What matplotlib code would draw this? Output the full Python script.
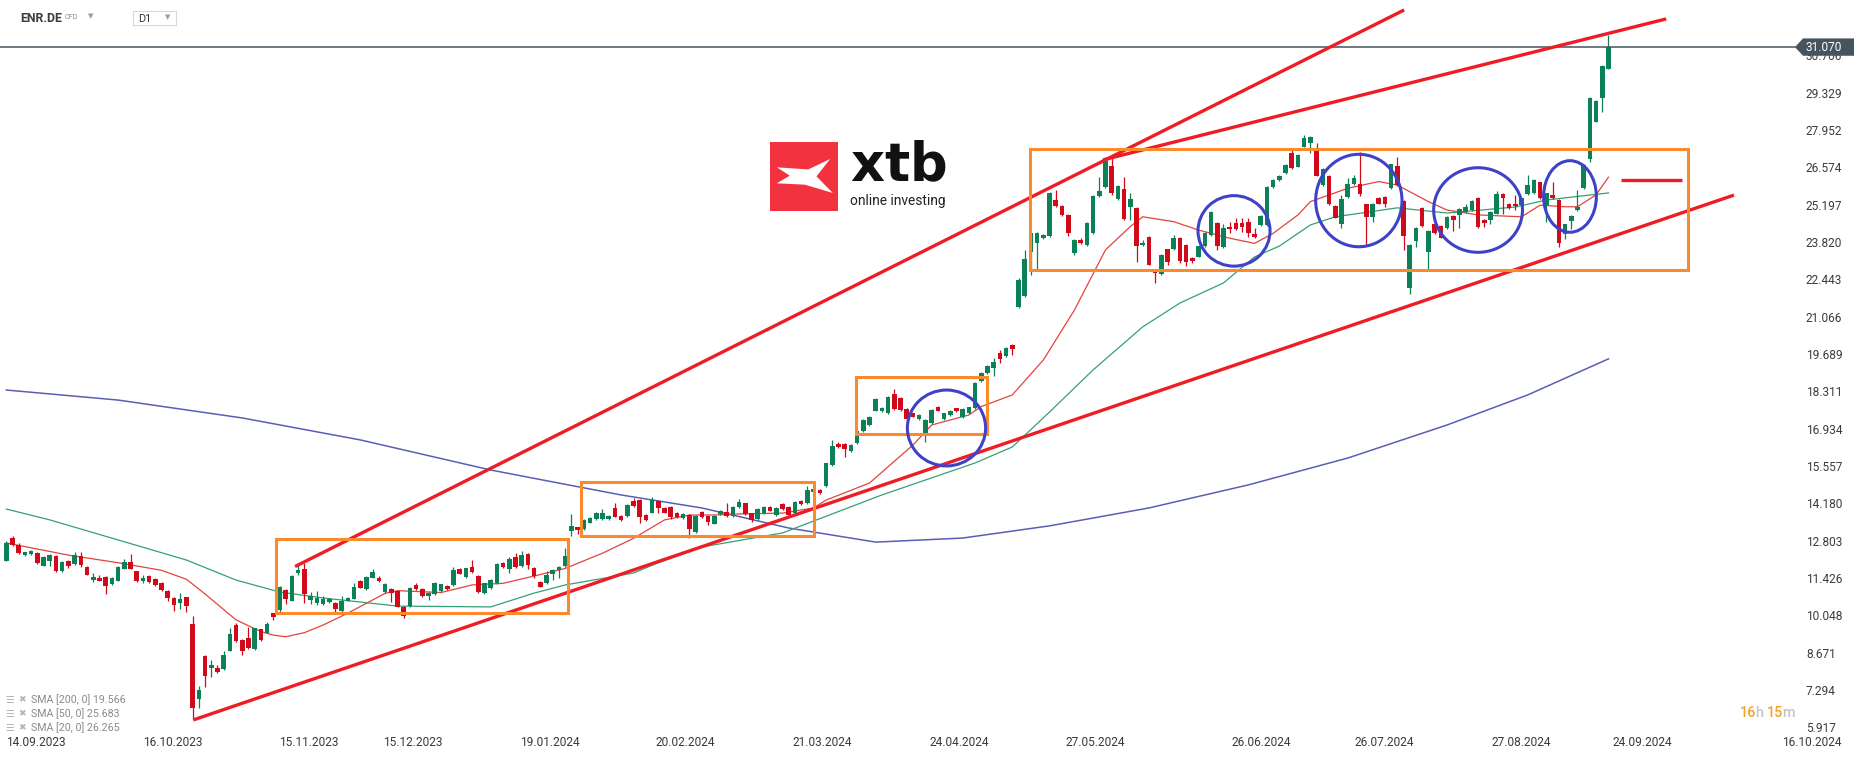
#!/usr/bin/env python3
"""
plot.py - ENR.DE daily candles with SMA 20/50/200 and hand-drawn chart annotations
"""

import numpy as np
import matplotlib
matplotlib.use("Agg")
import matplotlib.pyplot as plt
from matplotlib.patches import Rectangle, Ellipse, Polygon
from matplotlib.transforms import blended_transform_factory

W, H = 1866, 759

opens = [
    12.13, 12.95, 12.70, 12.32, 12.36, 12.41, 11.94, 12.13, 12.30, 11.74,
    12.11, 11.99, 12.30, 11.89, 11.41, 11.49, 11.52, 11.26, 11.38, 11.83,
    12.09, 11.74, 11.39, 11.56, 11.46, 11.31, 11.02, 10.75, 10.58, 10.77,
    9.79, 7.02, 8.61, 8.18, 8.18, 8.13, 8.80, 9.75, 9.19, 9.29,
    8.85, 9.59, 9.47, 10.18, 10.29, 11.06, 10.65, 11.68, 11.80, 10.67,
    10.57, 10.52, 10.59, 10.57, 10.28, 10.65, 10.72, 11.37, 11.09, 11.50,
    11.50, 10.97, 11.08, 10.99, 10.43, 10.45, 11.23, 11.08, 10.83, 10.89,
    11.00, 11.19, 11.23, 11.83, 11.53, 11.88, 11.56, 10.94, 11.10, 11.29,
    12.04, 11.80, 12.25, 11.94, 12.37, 11.87, 11.34, 11.29, 11.62, 11.77,
    11.93, 13.22, 13.35, 13.28, 13.53, 13.67, 13.65, 13.66, 14.07, 13.79,
    13.77, 14.33, 14.36, 13.80, 13.90, 14.33, 14.06, 14.12, 13.90, 13.70,
    13.80, 13.19, 13.93, 13.78, 13.49, 13.85, 13.93, 13.77, 14.11, 14.24,
    13.87, 13.65, 13.89, 14.11, 13.81, 14.21, 14.12, 13.87, 14.33, 14.26,
    14.67, 14.74, 14.88, 15.65, 16.42, 16.43, 16.17, 16.45, 16.92, 17.13,
    17.66, 17.65, 17.56, 18.26, 18.14, 17.71, 17.56, 17.34, 16.85, 17.19,
    17.79, 17.36, 17.51, 17.74, 17.41, 17.58, 17.74, 18.75, 19.05, 19.25,
    19.80, 19.67, 20.08, 21.49, 21.90, 23.52, 23.85, 24.01, 24.10, 25.43,
    25.21, 24.87, 23.48, 23.95, 23.77, 24.20, 25.58, 25.90, 26.69, 25.45,
    25.83, 25.18, 25.15, 23.77, 24.07, 22.80, 22.69, 23.61, 23.61, 24.04,
    23.77, 23.29, 23.34, 23.73, 24.15, 24.57, 23.70, 24.44, 24.57, 24.57,
    24.62, 24.17, 24.50, 24.50, 25.90, 26.17, 26.41, 27.17, 26.66, 27.40,
    27.52, 27.31, 25.98, 26.31, 25.21, 24.54, 25.55, 26.01, 26.01, 25.27,
    24.81, 25.51, 25.54, 25.88, 26.68, 25.39, 22.19, 23.91, 25.14, 23.52,
    24.53, 24.48, 24.38, 24.83, 24.87, 24.99, 25.06, 25.51, 24.69, 24.69,
    24.93, 25.64, 25.30, 25.30, 25.24, 25.64, 25.67, 26.08, 25.24, 25.61,
    25.43, 24.16, 24.65, 25.06, 25.88, 26.96, 28.32, 29.18, 30.28,
]
highs = [
    12.85, 13.05, 12.78, 12.46, 12.52, 12.44, 12.30, 12.37, 12.33, 12.12,
    12.14, 12.45, 12.45, 11.92, 11.68, 11.60, 11.55, 11.52, 11.92, 12.20,
    12.37, 11.76, 11.58, 11.60, 11.48, 11.33, 11.04, 10.78, 10.94, 10.80,
    10.08, 7.51, 8.63, 8.46, 8.27, 8.79, 9.63, 9.81, 9.22, 9.69,
    9.66, 9.62, 9.86, 10.20, 11.20, 11.09, 11.58, 12.03, 12.03, 10.97,
    11.02, 10.82, 10.74, 10.60, 10.82, 10.79, 11.29, 11.41, 11.55, 11.82,
    11.56, 11.31, 11.11, 11.02, 10.45, 11.15, 11.32, 11.10, 10.97, 11.34,
    11.28, 11.22, 11.88, 11.86, 11.87, 12.15, 11.60, 11.32, 11.44, 12.03,
    12.07, 12.25, 12.40, 12.48, 12.40, 11.90, 11.37, 11.75, 11.81, 11.92,
    12.58, 13.83, 13.38, 13.66, 13.72, 13.91, 14.02, 13.80, 14.24, 13.82,
    14.20, 14.43, 14.39, 13.83, 14.47, 14.36, 14.09, 14.15, 13.93, 13.87,
    13.85, 13.81, 13.96, 13.81, 13.82, 13.98, 14.26, 14.14, 14.40, 14.27,
    13.90, 14.08, 14.14, 14.14, 14.11, 14.24, 14.15, 14.33, 14.36, 14.88,
    14.80, 14.77, 15.74, 16.58, 16.50, 16.48, 16.42, 16.93, 17.34, 17.47,
    18.11, 17.78, 18.21, 18.45, 18.17, 17.74, 17.59, 17.53, 17.34, 17.71,
    17.82, 17.59, 17.69, 17.77, 17.74, 17.81, 18.70, 19.10, 19.35, 19.60,
    19.90, 20.02, 20.12, 22.55, 23.58, 24.25, 24.26, 24.17, 25.73, 25.80,
    25.24, 24.90, 23.98, 24.02, 24.60, 25.61, 26.29, 26.91, 27.03, 25.98,
    26.29, 25.70, 25.18, 23.95, 24.10, 22.85, 23.43, 23.64, 24.15, 24.07,
    23.80, 23.32, 23.76, 24.25, 25.03, 24.60, 24.55, 24.60, 24.75, 24.75,
    24.75, 24.40, 24.87, 25.95, 26.20, 26.34, 26.75, 27.30, 27.12, 27.83,
    27.79, 27.52, 26.60, 26.34, 25.24, 25.60, 26.23, 26.35, 27.19, 25.30,
    25.33, 25.54, 25.57, 26.77, 27.03, 25.42, 23.80, 24.44, 25.17, 24.31,
    24.56, 24.51, 24.84, 24.86, 25.12, 25.30, 25.42, 25.54, 24.72, 25.02,
    25.78, 25.67, 25.33, 25.60, 25.52, 26.36, 26.20, 26.11, 25.70, 26.10,
    25.46, 24.56, 24.86, 25.80, 26.75, 29.23, 29.11, 30.40, 31.52,
]
lows = [
    12.10, 12.68, 12.38, 12.30, 12.34, 12.02, 11.92, 11.94, 11.70, 11.72,
    11.85, 11.97, 11.88, 11.58, 11.34, 11.36, 10.91, 11.24, 11.36, 11.80,
    11.80, 11.34, 11.32, 11.31, 11.19, 11.02, 10.64, 10.28, 10.36, 10.24,
    6.28, 6.68, 7.45, 7.84, 8.00, 8.10, 8.78, 9.14, 8.66, 8.88,
    8.83, 9.16, 9.44, 9.94, 10.24, 10.52, 10.62, 11.60, 10.55, 10.52,
    10.50, 10.48, 10.56, 10.24, 10.25, 10.62, 10.70, 11.10, 11.06, 11.48,
    11.34, 10.94, 10.61, 10.40, 10.00, 10.42, 11.04, 10.79, 10.68, 10.86,
    10.97, 11.05, 11.20, 11.62, 11.50, 11.68, 10.95, 10.91, 11.07, 11.26,
    11.85, 11.68, 11.87, 11.91, 11.82, 11.47, 11.14, 11.26, 11.40, 11.50,
    11.90, 13.05, 13.10, 13.25, 13.50, 13.64, 13.62, 13.63, 13.72, 13.60,
    13.74, 14.12, 13.50, 13.60, 13.87, 13.90, 13.87, 13.65, 13.69, 13.67,
    12.95, 13.16, 13.69, 13.45, 13.46, 13.82, 13.74, 13.74, 14.08, 13.82,
    13.55, 13.62, 13.86, 13.94, 13.78, 14.00, 13.75, 13.84, 14.18, 14.23,
    14.64, 14.60, 14.85, 15.62, 16.30, 15.96, 16.14, 16.42, 16.89, 17.10,
    17.63, 17.62, 17.53, 17.70, 17.65, 17.33, 17.41, 17.31, 16.51, 17.16,
    17.63, 17.33, 17.48, 17.62, 17.38, 17.55, 17.71, 18.72, 19.02, 18.95,
    19.40, 19.64, 19.70, 21.45, 21.85, 22.66, 22.90, 23.98, 24.07, 25.18,
    24.84, 24.10, 23.40, 23.82, 23.74, 24.17, 25.55, 25.87, 25.60, 25.42,
    24.70, 24.70, 23.15, 23.74, 23.02, 22.35, 22.66, 23.05, 23.58, 23.10,
    23.00, 23.10, 23.31, 23.70, 24.12, 23.60, 23.67, 24.20, 24.32, 24.25,
    24.05, 24.04, 24.47, 24.47, 25.87, 26.14, 26.38, 26.59, 26.63, 27.37,
    27.15, 26.30, 25.95, 25.24, 24.75, 24.40, 25.52, 25.98, 25.58, 23.77,
    24.60, 25.27, 25.17, 25.85, 25.95, 23.58, 21.98, 23.70, 24.45, 22.90,
    24.19, 24.01, 24.35, 24.30, 24.40, 24.96, 25.03, 24.41, 24.45, 24.55,
    24.90, 24.90, 25.11, 25.05, 25.21, 25.61, 25.64, 25.46, 24.60, 25.48,
    23.71, 24.00, 24.35, 25.03, 25.85, 26.82, 28.29, 28.69, 30.25,
]
closes = [
    12.79, 12.70, 12.40, 12.43, 12.49, 12.04, 12.27, 12.35, 11.73, 12.09,
    11.93, 12.32, 11.95, 11.60, 11.54, 11.38, 11.20, 11.49, 11.89, 12.09,
    11.82, 11.38, 11.50, 11.33, 11.23, 11.04, 10.74, 10.49, 10.71, 10.45,
    6.70, 7.35, 7.88, 8.29, 8.03, 8.65, 9.42, 9.17, 8.80, 8.92,
    9.64, 9.20, 9.79, 10.06, 11.17, 10.70, 11.56, 11.78, 10.88, 10.82,
    10.75, 10.72, 10.71, 10.35, 10.64, 10.76, 11.17, 11.13, 11.52, 11.72,
    11.37, 11.28, 10.94, 10.43, 10.10, 11.12, 11.09, 10.82, 10.94, 11.31,
    11.25, 11.08, 11.78, 11.65, 11.84, 11.71, 10.98, 11.29, 11.41, 12.00,
    11.88, 12.17, 11.90, 12.32, 11.96, 11.56, 11.17, 11.58, 11.78, 11.89,
    12.30, 13.40, 13.26, 13.63, 13.69, 13.88, 13.88, 13.77, 13.75, 13.64,
    14.17, 14.15, 13.72, 13.63, 14.38, 14.06, 13.90, 13.75, 13.72, 13.84,
    13.30, 13.78, 13.72, 13.54, 13.79, 13.95, 13.77, 14.11, 14.30, 13.85,
    13.62, 14.05, 14.11, 13.97, 14.08, 14.03, 13.81, 14.30, 14.21, 14.73,
    14.76, 14.64, 15.71, 16.37, 16.33, 16.23, 16.39, 16.90, 17.31, 17.44,
    18.08, 17.75, 18.18, 17.73, 17.68, 17.36, 17.44, 17.50, 17.31, 17.68,
    17.66, 17.56, 17.66, 17.65, 17.71, 17.78, 18.67, 19.05, 19.30, 19.45,
    19.58, 19.98, 19.93, 22.48, 23.27, 24.22, 24.22, 24.14, 25.70, 25.21,
    24.87, 24.20, 23.95, 23.85, 24.57, 25.58, 25.77, 26.88, 25.70, 25.95,
    24.73, 25.47, 23.74, 23.85, 23.05, 22.75, 23.40, 23.15, 24.04, 23.18,
    23.15, 23.19, 23.73, 24.20, 25.00, 23.73, 24.38, 24.35, 24.35, 24.44,
    24.22, 24.07, 24.84, 25.92, 26.17, 26.31, 26.72, 26.62, 27.09, 27.73,
    27.76, 26.33, 26.57, 25.27, 24.78, 25.45, 26.01, 26.25, 25.64, 24.81,
    25.30, 25.30, 25.30, 26.74, 25.98, 24.11, 23.77, 24.41, 24.48, 24.28,
    24.22, 24.04, 24.81, 24.69, 25.09, 25.18, 25.39, 24.44, 24.59, 24.99,
    25.64, 25.49, 25.14, 25.22, 25.49, 25.98, 26.17, 25.49, 25.67, 25.51,
    23.83, 24.53, 24.83, 25.18, 26.72, 29.20, 29.08, 30.37, 31.07,
]

# moving averages (candle index, value)
sma20_x = [0, 10, 18, 25, 29, 32, 37, 41, 43, 45, 48, 51, 55, 61, 63, 70, 75, 80, 85, 90,
           96, 101, 106, 110, 114, 118, 125, 130, 132, 139, 146, 149, 155, 157, 162, 167,
           172, 177, 181, 183, 188, 192, 197, 201, 204, 208, 210, 216, 221, 224, 229, 232,
           237, 244, 247, 251, 253, 256, 258]
sma20_y = [12.78, 12.33, 12.05, 11.77, 11.44, 10.90, 9.94, 9.51, 9.38, 9.32, 9.47, 9.75,
           10.19, 10.92, 11.02, 10.95, 11.23, 11.29, 11.56, 11.84, 12.40, 12.95, 13.63,
           13.81, 13.81, 13.85, 13.88, 14.07, 14.36, 14.99, 16.39, 17.13, 17.50, 17.81,
           18.24, 19.53, 21.37, 23.59, 24.45, 24.81, 24.63, 24.32, 24.02, 23.83, 24.20,
           24.88, 25.37, 25.86, 26.11, 25.98, 25.37, 25.06, 24.88, 24.81, 25.24, 25.18,
           25.18, 25.62, 26.27]
sma50_x = [0, 7, 18, 29, 37, 44, 51, 63, 78, 85, 90, 101, 105, 112, 125, 141, 156, 162,
           168, 175, 183, 189, 196, 201, 205, 210, 214, 224, 232, 243, 248, 258]
sma50_y = [14.03, 13.63, 12.89, 12.15, 11.41, 10.97, 10.75, 10.45, 10.42, 10.93, 11.23,
           11.67, 12.05, 12.63, 13.15, 14.55, 15.73, 16.32, 17.61, 19.16, 20.75, 21.63,
           22.37, 23.33, 23.73, 24.51, 24.81, 25.14, 24.95, 25.17, 25.43, 25.69]
sma200_x = [0, 18, 38, 57, 78, 88, 99, 112, 126, 140, 154, 168, 184, 200, 216, 232, 245, 258]
sma200_y = [18.42, 18.05, 17.39, 16.58, 15.47, 15.03, 14.55, 14.07, 13.33, 12.81, 12.96,
            13.41, 14.07, 14.92, 15.91, 17.13, 18.24, 19.57]

price_ticks = [30.706, 29.329, 27.952, 26.574, 25.197, 23.820, 22.443, 21.066, 19.689,
               18.311, 16.934, 15.557, 14.180, 12.803, 11.426, 10.048, 8.671, 7.294, 5.917]
date_labels = ["14.09.2023", "16.10.2023", "15.11.2023", "15.12.2023", "19.01.2024",
               "20.02.2024", "21.03.2024", "24.04.2024", "27.05.2024", "26.06.2024",
               "26.07.2024", "27.08.2024", "24.09.2024", "16.10.2024"]
date_slots = [0, 22, 44, 60.7, 82.7, 104.6, 126.6, 148.7, 170.5, 197.3, 217.1, 239.1,
              258.7, 285.9]
legend_rows = [("SMA [200, 0]", 19.566), ("SMA [50, 0]", 25.683), ("SMA [20, 0]", 26.265)]

# drawn annotations (candle index / price)
trend_lines = [(46.5, 11.91, 225.1, 32.44), (176.6, 26.91, 267.3, 32.11),
               (30.1, 6.25, 278.2, 25.61), (260.0, 26.17, 269.8, 26.17)]
boxes = [(43.5, 90.5, 10.18, 12.91), (92.5, 130.0, 13.04, 15.02),
         (136.8, 157.9, 16.80, 18.89), (164.8, 270.8, 22.84, 27.32)]
circles = [(151.4, 17.02, 12.6, 2.80), (197.7, 24.29, 11.6, 2.60), (217.8, 25.41, 13.9, 3.41),
           (237.0, 25.06, 14.3, 3.12), (251.8, 25.56, 8.5, 2.64)]

GREEN = "#0c8056"
RED = "#d0091b"


def px(x, y):
    return x / W, 1 - y / H


fig = plt.figure(figsize=(W / 100, H / 100), dpi=100)
ax = fig.add_axes([0, 0, 1, 1])
ax.set_xlim(-6.3 / 6.21, (W - 6.3) / 6.21)
ax.set_ylim(32.807 - H / 27.11, 32.807)
ax.axis("off")

o, h, l, c = map(np.array, (opens, highs, lows, closes))
x = np.arange(len(c))
col = np.where(c >= o, GREEN, RED)

# SMAs
ax.plot(sma200_x, sma200_y, color="#5a5eb5", lw=1.1, zorder=2)
ax.plot(sma50_x, sma50_y, color="#34a173", lw=0.9, zorder=2)
ax.plot(sma20_x, sma20_y, color="#e2443c", lw=0.9, zorder=2)

# candles
ax.vlines(x, l, h, colors=col, lw=0.9, zorder=3)
ax.bar(x, np.maximum(np.abs(c - o), 0.04), bottom=np.minimum(o, c), width=0.74,
       color=col, linewidth=0, zorder=4)

# current price line + badge
yx = blended_transform_factory(ax.transAxes, ax.transData)
last = closes[-1]
ax.plot([0, 1795 / W], [last, last], transform=yx, color="#45545f", lw=1.1, zorder=5)
badge = Polygon([(1795 / W, last), (1803 / W, last + 0.32), (1854 / W, last + 0.32),
                 (1854 / W, last - 0.32), (1803 / W, last - 0.32)],
                closed=True, transform=yx, fc="#45545f", ec="none", zorder=9)
ax.add_patch(badge)

# annotations
for x0, p0, x1, p1 in trend_lines:
    ax.plot([x0, x1], [p0, p1], color="#ee1d25", lw=2.4, solid_capstyle="butt", zorder=6)
for x0, x1, lo, hi in boxes:
    ax.add_patch(Rectangle((x0, lo), x1 - x0, hi - lo, fill=False, ec="#fb8a2c", lw=2.2, zorder=6))
for cx, cy, ew, eh in circles:
    ax.add_patch(Ellipse((cx, cy), ew, eh, fill=False, ec="#3e42c8", lw=2.2, zorder=7))

# price labels
for v in price_ticks:
    ax.text(1806 / W, v, f"{v:.3f}", transform=yx, ha="left", va="center",
            fontsize=8.6, color="#3c3c3c", family="Roboto", zorder=8)
ax.text(1806 / W, last, f"{last:.3f}", transform=yx, ha="left", va="center",
        fontsize=8.6, color="white", family="Roboto", zorder=10)

# date labels
xy = blended_transform_factory(ax.transData, ax.transAxes)
for lab, p in zip(date_labels, date_slots):
    ax.text(p, 1 - 742 / H, lab, transform=xy, ha="left", va="center",
            fontsize=8.6, color="#3a3a3a", family="Roboto")

# SMA legend
for k, (name, val) in enumerate(legend_rows):
    yy = 700 + k * 14
    fig.text(*px(5, yy), "\u2630", fontsize=7, color="#b5b5b5", va="center", family="DejaVu Sans")
    fig.text(*px(18, yy), "\u2716", fontsize=6.5, color="#b5b5b5", va="center", family="DejaVu Sans")
    fig.text(*px(31, yy), f"{name} {val:.3f}", fontsize=7.7, color="#8a8a8a", va="center",
             family="Roboto")

# countdown
for t, xx, cc in [("16", 1740, "#f5a22c"), ("h", 1755, "#c4c4c4"),
                  ("15", 1767, "#f5a22c"), ("m", 1782, "#c4c4c4")]:
    fig.text(*px(xx, 713), t, fontsize=10.4, color=cc, va="center", family="Roboto",
             fontweight="medium")

# header
fig.text(*px(20.7, 18.5), "ENR.DE", fontsize=8.9, fontweight="bold", color="#3a3f44",
         va="center", family="Roboto")
fig.text(*px(65, 17.5), "CFD", fontsize=5.2, color="#8c8c8c", va="center", family="Roboto")
fig.text(*px(88, 16.5), "\u25bc", fontsize=5, color="#9a9a9a", va="center", family="DejaVu Sans")
fig.add_artist(Rectangle(px(132.7, 25), 43 / W, 14 / H, transform=fig.transFigure,
                         fill=False, ec="#d8d8d8", lw=0.8))
fig.text(*px(138, 19), "D1", fontsize=7.8, color="#333333", va="center", family="Roboto")
fig.text(*px(165, 17), "\u25bc", fontsize=5, color="#9a9a9a", va="center", family="DejaVu Sans")

# xtb logo
lax = fig.add_axes([770 / W, 1 - 211 / H, 68.3 / W, 69.3 / H])
lax.set_xlim(0, 1)
lax.set_ylim(0, 1)
lax.axis("off")
lax.add_patch(Rectangle((0, 0), 1, 1, fc="#f2333f", ec="none"))
lax.add_patch(Polygon([(0.10, 0.63), (0.56, 0.60), (0.88, 0.75), (0.68, 0.50),
                       (0.92, 0.26), (0.51, 0.38), (0.10, 0.40), (0.29, 0.51)],
                      closed=True, fc="white", ec="none"))
# mathtext keeps the box tight to the ink (no descender room)
fig.text(*px(850, 192), r"$\mathbf{xtb}$", fontsize=38, color="#111111", va="bottom")
fig.text(*px(850, 194.5), "online investing", fontsize=9.9, color="#222222", va="top",
         family="Roboto")

fig.savefig("out.png", dpi=100)
